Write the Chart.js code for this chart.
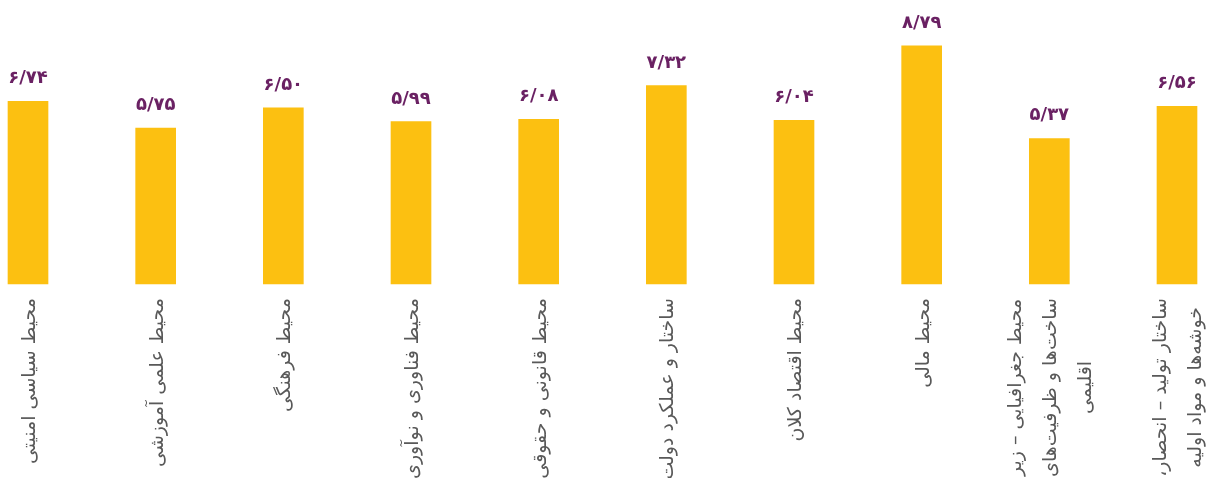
<!DOCTYPE html>
<html lang="fa">
<head>
<meta charset="utf-8">
<title>امتیاز محیط‌ها</title>
<script src="https://cdn.jsdelivr.net/npm/chart.js@4.4.1/dist/chart.umd.min.js"></script>
<style>
  html, body { margin: 0; padding: 0; background: #fff; }
  #wrap { width: 1208px; height: 478px; }
</style>
</head>
<body>
<div id="wrap"><canvas id="scoreChart"></canvas></div>
<script>
// ── Data ──────────────────────────────────────────────────────
const categories = [
    ["محیط سیاسی امنیتی"],
    ["محیط علمی آموزشی"],
    ["محیط فرهنگی"],
    ["محیط فناوری و نوآوری"],
    ["محیط قانونی و حقوقی"],
    ["ساختار و عملکرد دولت"],
    ["محیط اقتصاد کلان"],
    ["محیط مالی"],
    ["محیط جغرافیایی – زیر", "ساخت‌ها و ظرفیت‌های", "اقلیمی"],
    ["ساختار تولید – انحصار،", "خوشه‌ها و مواد اولیه"]
];
const scores = [6.74, 5.75, 6.50, 5.99, 6.08, 7.32, 6.04, 8.79, 5.37, 6.56];
const yMin = 0;
const yMax = 10;

const BAR_COLOR   = "#FCC011";
const VALUE_COLOR = "#6A2163";
const LABEL_COLOR = "#595959";
const FONT        = "'DejaVu Sans', sans-serif";

// ── Helpers ───────────────────────────────────────────────────
const FA_DIGITS = "۰۱۲۳۴۵۶۷۸۹";
function toFa(num) {
    return num.toFixed(2).replace(/\d/g, d => FA_DIGITS[d]).replace(".", "/");
}

// value labels above bars
const valueLabels = {
    id: "valueLabels",
    afterDatasetsDraw(chart) {
        const { ctx } = chart;
        const meta = chart.getDatasetMeta(0);
        ctx.save();
        ctx.direction = "ltr";
        ctx.font = `bold 18px ${FONT}`;
        ctx.fillStyle = VALUE_COLOR;
        ctx.textAlign = "center";
        ctx.textBaseline = "alphabetic";
        meta.data.forEach((bar, i) => {
            ctx.fillText(toFa(scores[i]), bar.x, bar.y - 18);
        });
        ctx.restore();
    }
};

// rotated category labels, lines centred in their block
const categoryLabels = {
    id: "categoryLabels",
    afterDraw(chart) {
        const { ctx } = chart;
        const xScale = chart.scales.x;
        const top = chart.chartArea.bottom + 14;
        const lineH = 35;
        ctx.save();
        ctx.direction = "rtl";
        ctx.font = `19px ${FONT}`;
        ctx.fillStyle = LABEL_COLOR;
        ctx.textAlign = "center";
        ctx.textBaseline = "middle";
        categories.forEach((lines, i) => {
            const x = xScale.getPixelForTick(i) + 2;
            const w = Math.max(...lines.map(l => ctx.measureText(l).width));
            ctx.save();
            ctx.translate(x, top);
            ctx.rotate(-Math.PI / 2);
            lines.forEach((line, j) => {
                const off = (j - (lines.length - 1) / 2) * lineH;
                ctx.fillText(line, -w / 2, off);
            });
            ctx.restore();
        });
        ctx.restore();
    }
};

// ── Chart ─────────────────────────────────────────────────────
new Chart(document.getElementById("scoreChart"), {
    type: "bar",
    data: {
        labels: categories,
        datasets: [{
            data: scores,
            backgroundColor: BAR_COLOR,
            borderWidth: 0,
            barThickness: 40,
            clip: false
        }]
    },
    options: {
        responsive: true,
        maintainAspectRatio: false,
        animation: false,
        layout: { padding: { left: 28, right: 31, top: 13, bottom: 194 } },
        plugins: {
            legend: { display: false },
            tooltip: { enabled: false }
        },
        scales: {
            x: { display: false, offset: false },
            y: { display: false, min: yMin, max: yMax }
        }
    },
    plugins: [valueLabels, categoryLabels]
});
</script>
</body>
</html>
